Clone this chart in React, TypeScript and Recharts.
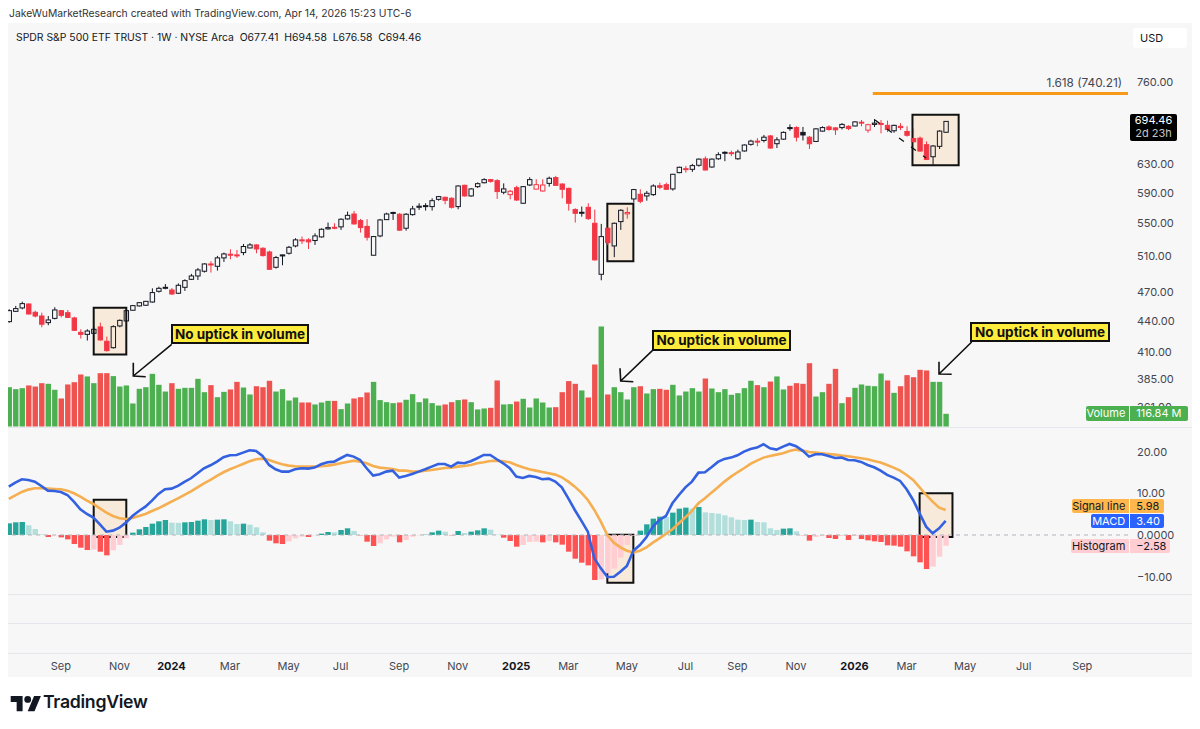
import React from "react";
import { ComposedChart, Bar, Line, XAxis, YAxis, ReferenceArea, ReferenceLine } from "recharts";

const opens = [
439.1,449.6,453.1,457.2,448.6,444.8,438.1,442.4,450.3,448.2,
442.8,428.5,426.5,427.5,433.8,419.8,413.7,434.8,439.8,450.7,
455.2,455.9,459.3,470.7,473.9,472.1,468.6,475.0,483.8,487.5,
492.8,501.1,498.4,508.1,512.4,511.6,514.3,519.8,523.4,519.4,
515.0,497.3,510.4,513.5,522.2,529.5,529.5,528.7,533.1,543.0,
545.0,545.5,555.5,561.8,553.4,546.1,511.2,534.3,554.6,562.9,
561.5,543.8,561.0,570.5,571.4,571.4,581.0,583.7,582.4,571.4,
599.9,585.5,598.1,603.5,607.8,606.4,590.5,587.3,596.7,575.8,
600.4,594.7,592.2,602.6,610.6,601.7,595.8,567.5,563.0,570.5,
550.0,489.4,543.8,522.2,552.1,562.0,581.5,587.7,585.5,587.3,
599.4,600.8,595.0,617.6,621.9,622.3,628.1,637.5,625.6,637.5,
646.0,645.5,637.5,649.0,658.9,663.8,664.8,671.7,659.9,666.8,
684.7,684.7,677.2,669.8,663.3,679.2,685.7,684.2,684.7,686.7,
687.2,692.2,680.7,689.7,689.7,688.2,679.7,686.7,678.7,667.8,
668.3,658.4,640.5,655.9,677.41];
const closes = [
450.3,452.4,457.6,446.9,444.8,436.5,440.8,451.0,445.5,443.4,
430.5,426.5,429.8,431.5,421.1,410.9,434.1,440.4,450.3,455.5,
458.6,460.0,469.3,473.9,475.0,467.8,477.2,482.3,487.5,494.3,
501.1,499.9,508.1,512.7,511.6,510.8,521.5,523.4,518.6,510.8,
495.0,508.5,511.6,520.6,529.5,528.7,527.1,534.3,542.5,544.6,
544.0,555.1,560.1,549.2,544.6,532.7,533.5,554.2,561.8,563.8,
541.4,561.5,568.4,571.9,572.7,579.2,584.6,579.7,570.5,599.0,
585.5,595.0,602.2,607.8,605.4,591.4,595.0,591.8,580.1,598.1,
607.8,600.8,600.3,609.7,599.9,594.5,575.8,562.7,564.0,555.9,
505.8,533.5,526.2,550.0,566.6,563.8,594.1,578.4,589.1,599.0,
597.2,594.5,615.3,625.2,623.3,627.6,637.0,621.4,637.0,643.5,
647.0,646.5,647.5,657.9,663.8,662.3,669.8,653.4,665.8,677.2,
683.2,669.8,673.2,659.8,682.7,684.7,681.7,681.2,689.7,683.2,
693.7,693.2,689.2,691.7,691.2,681.7,688.2,684.7,672.7,662.8,
648.9,636.6,656.4,679.2,694.46];
const highs = [
451.7,455.2,459.7,457.9,450.3,448.2,444.8,453.8,451.0,451.0,
444.1,431.5,431.5,434.1,438.1,424.3,435.5,441.4,452.7,456.2,
459.3,460.4,473.9,475.7,478.6,474.3,479.3,483.8,489.8,496.5,
501.9,504.2,510.4,514.3,518.2,517.4,524.6,525.5,524.2,520.6,
516.6,510.4,512.0,522.2,531.5,533.5,531.5,537.5,543.7,550.9,
550.0,556.3,564.9,565.7,555.5,555.1,534.3,555.5,563.5,564.7,
562.9,562.9,572.3,575.8,575.8,582.4,585.5,584.6,583.7,599.9,
600.8,596.3,604.0,609.7,608.8,608.3,602.6,593.6,599.4,599.0,
611.1,608.3,608.3,612.0,613.0,602.6,596.7,569.2,571.4,575.8,
567.5,549.2,544.6,550.9,567.9,570.5,595.0,594.5,592.3,601.3,
603.5,603.5,615.8,626.1,627.1,630.1,638.0,641.0,638.0,647.0,
648.5,649.5,651.0,658.9,665.9,668.3,673.2,673.2,669.8,678.7,
689.7,686.7,685.7,671.7,683.7,686.7,688.2,685.7,691.7,688.2,
694.7,696.7,690.7,698.2,696.7,695.7,689.2,691.7,686.7,683.2,
670.7,663.3,657.9,680.7,694.58];
const lows = [
438.1,448.9,451.7,446.2,443.4,433.5,435.5,441.4,443.4,442.8,
429.8,422.4,420.5,426.9,420.5,410.0,412.8,433.5,439.1,450.3,
454.5,455.2,458.6,469.3,472.9,466.8,467.8,471.1,483.0,483.0,
491.3,491.3,493.5,503.4,506.5,508.1,511.2,519.4,513.5,509.6,
494.3,495.8,499.6,512.0,520.6,524.6,518.6,523.4,532.3,542.1,
542.5,541.7,554.6,548.4,538.4,528.7,510.8,532.7,554.2,554.2,
540.6,540.8,559.7,567.1,566.2,566.2,579.2,574.5,568.8,567.9,
584.6,584.6,596.3,602.6,603.5,581.5,587.8,581.0,578.8,574.9,
599.0,594.5,591.3,598.1,599.0,582.4,566.2,550.9,558.4,554.2,
505.0,482.7,523.0,508.9,541.7,555.9,576.7,575.8,579.2,585.5,
594.5,593.6,592.7,616.7,617.6,618.6,626.1,620.5,624.6,636.0,
634.0,641.4,636.0,648.0,656.9,656.0,661.8,652.4,653.4,665.8,
679.7,663.3,664.8,651.9,662.3,678.2,679.7,673.2,681.7,680.7,
686.7,686.7,676.7,685.7,675.7,677.7,676.7,680.7,670.7,660.8,
648.0,635.6,628.5,651.9,676.58];
const volumes = [
362,344,353,378,368,399,393,338,258,387,
408,479,461,399,491,491,464,368,378,212,
347,362,485,384,322,399,347,356,356,439,
316,381,270,319,341,411,359,295,371,362,
421,322,344,239,267,221,221,203,221,236,
236,160,212,258,270,313,411,243,224,215,
221,246,298,224,258,215,193,203,224,243,
249,224,157,166,172,424,203,206,230,255,
175,258,221,175,178,316,418,393,332,267,
571,921,295,362,316,249,362,371,304,344,
347,338,384,286,322,353,322,442,350,316,
344,292,307,353,421,381,362,414,461,341,
375,399,393,583,276,316,393,531,215,270,
356,387,375,371,488,424,310,371,473,454,
522,516,411,411,116.84];
const macd = [
11.6,12.56,13.36,13.2,12.8,11.76,10.64,10.56,10.32,9.6,
8.0,6.16,5.04,4.16,2.56,0.8,1.04,1.76,2.96,4.56,
5.76,6.8,8.24,9.84,10.96,11.12,11.76,12.72,13.6,14.8,
16.0,16.72,17.6,18.64,19.12,19.2,19.76,20.32,20.16,18.96,
16.8,15.76,15.2,15.2,15.76,16.0,15.92,16.16,16.96,17.44,
17.6,18.4,19.2,18.8,18.0,16.0,14.24,14.56,15.2,15.44,
13.76,14.16,14.64,15.2,15.76,16.4,17.04,17.04,16.4,17.36,
17.2,17.68,18.4,19.2,19.2,18.16,17.2,16.0,14.0,13.68,
14.16,13.92,13.36,13.52,12.8,11.44,8.8,6.0,3.44,0.8,
-5.6,-8.0,-10.08,-10.0,-8.8,-7.44,-3.76,-2.4,-0.56,2.0,
3.6,4.56,7.6,9.6,11.44,12.8,14.96,15.04,16.24,17.52,
18.24,18.56,19.12,20.0,20.64,20.96,21.76,20.8,20.48,21.2,
21.84,21.28,20.24,18.8,19.36,19.36,18.96,18.48,18.56,18.0,
17.92,17.52,16.8,16.24,15.44,14.4,13.76,12.96,10.96,8.4,
5.2,2.0,0.4,1.6,3.40];
const signal = [
8.64,9.52,10.32,10.88,11.2,11.2,11.12,11.04,10.96,10.64,
10.0,9.2,8.24,7.44,6.4,5.36,4.56,4.0,3.84,4.08,
4.56,5.04,5.76,6.4,7.2,8.0,8.8,9.6,10.48,11.44,
12.4,13.2,14.16,15.04,15.76,16.4,17.04,17.68,18.16,18.32,
18.0,17.44,16.96,16.64,16.48,16.4,16.4,16.4,16.48,16.64,
16.88,17.2,17.52,17.84,17.6,17.2,16.56,16.16,16.0,15.84,
15.44,15.44,15.2,15.2,15.44,15.6,15.84,16.08,16.16,16.4,
16.56,16.8,17.2,17.44,17.76,17.84,17.68,17.44,16.8,16.24,
15.76,15.44,15.12,14.8,14.48,13.84,12.8,11.6,10.16,8.4,
6.0,3.2,0.0,-1.84,-2.96,-3.76,-4.16,-3.76,-2.96,-1.84,
-0.8,0.24,1.36,2.8,4.24,5.76,7.6,8.8,10.16,11.44,
12.8,14.0,15.04,16.0,17.04,17.84,18.56,18.96,19.28,19.6,
20.16,20.48,20.24,19.92,19.76,19.6,19.44,19.28,19.04,18.88,
18.64,18.4,18.16,17.76,17.36,16.8,16.16,15.44,14.4,13.2,
11.44,9.6,8.0,6.56,5.98];
const histogram = [
2.8,3.04,3.12,2.32,1.44,0.16,-0.48,-0.1,-0.56,-1.04,
-2.16,-3.04,-3.6,-3.5,-4.0,-4.88,-3.68,-2.4,-0.8,0.56,
1.36,1.92,2.72,3.28,3.6,2.96,2.9,3.04,3.12,3.44,
3.76,3.6,3.68,3.76,3.28,2.64,2.72,2.48,1.84,0.64,
-1.36,-2.0,-2.16,-1.52,-0.8,-0.4,-0.48,-0.08,0.32,0.72,
0.64,1.2,1.6,0.96,-0.08,-1.6,-2.64,-2.0,-1.04,-0.4,
-1.76,-1.2,-0.4,-0.08,0.08,0.64,1.04,0.8,-0.08,0.96,
0.48,0.8,1.12,1.6,1.28,0.08,-0.64,-1.44,-2.8,-2.4,
-1.68,-1.6,-1.76,-1.44,-1.76,-2.32,-4.0,-5.68,-6.64,-7.28,
-10.8,-10.64,-9.2,-8.08,-5.44,-2.4,-0.16,1.04,2.56,3.92,
4.4,4.32,5.36,6.32,6.56,6.32,6.72,5.44,5.28,5.12,
4.72,4.24,3.68,3.6,3.68,3.12,3.04,1.6,1.2,1.52,
1.6,0.88,-0.05,-1.36,-0.48,-0.16,-0.72,-0.96,-0.24,-1.2,
-0.24,-0.96,-1.28,-1.52,-1.68,-2.48,-2.56,-2.8,-3.92,-5.12,
-6.56,-8.16,-7.6,-5.2,-2.58];

const timeTickIndexes = [8,17,25,34,43,51,60,69,78,86,95,104,112,121,130,138,147,156,165];
const timeTickLabels = ["Sep","Nov","2024","Mar","May","Jul","Sep","Nov","2025","Mar","May","Jul","Sep","Nov","2026","Mar","May","Jul","Sep"];
const priceTicks = [760,630,590,550,510,470,440,410,385,361];
const macdTicks = [20,10,0,-10];
const fibLevel = 740.21;

const rows = opens.map((o, i) => ({
  i, open: o, high: highs[i], low: lows[i], close: closes[i],
  prev: i > 0 ? closes[i - 1] : o,
  volume: volumes[i], macd: macd[i], signal: signal[i], hist: histogram[i],
  histPrev: i > 0 ? histogram[i - 1] : histogram[i],
}));

const FONT = "Inter, 'Noto Sans', sans-serif";
const W = 1200;
const X_DOMAIN: [number, number] = [-0.123, 172.03];
const BOX_FILL = "#f6d9b8";

const CandleShape = (p: any) => {
  const { x, y, width, height, payload: d } = p;
  const span = Math.log(d.high) - Math.log(d.low) || 1;
  const at = (v: number) => y + (height * (Math.log(d.high) - Math.log(v))) / span;
  const up = d.close >= d.open;
  const color = d.close >= d.prev ? "#131722" : "#f23645";
  const top = at(Math.max(d.open, d.close));
  const bot = at(Math.min(d.open, d.close));
  const cx = x + width / 2;
  return (
    <g>
      <line x1={cx} x2={cx} y1={y} y2={top} stroke={color} strokeWidth={1} />
      <line x1={cx} x2={cx} y1={bot} y2={y + height} stroke={color} strokeWidth={1} />
      <rect x={x + 0.5} y={top} width={width - 1} height={Math.max(bot - top, 1)} fill={up ? "none" : color} stroke={color} strokeWidth={1} />
    </g>
  );
};

const VolumeShape = (p: any) => {
  const { x, y, width, height, payload: d } = p;
  return <rect x={x} y={y} width={width} height={height} fill={d.close >= d.open ? "#4caf50" : "#ef5350"} />;
};

const HistShape = (p: any) => {
  const { x, y, width, height, payload: d } = p;
  const rising = d.hist >= d.histPrev;
  const fill = d.hist >= 0 ? (rising ? "#26a69a" : "#b2dfdb") : rising ? "#ffcdd2" : "#ff5252";
  return <rect x={x} y={Math.min(y, y + height)} width={width} height={Math.abs(height)} fill={fill} />;
};

const TimeTick = (p: any) => {
  const label = timeTickLabels[timeTickIndexes.indexOf(p.payload.value)];
  const year = /^\d+$/.test(label);
  return (
    <text x={p.x} y={p.y + 8} textAnchor="middle" fontFamily={FONT} fontSize={11} fontWeight={year ? 700 : 400} fill={year ? "#131722" : "#434651"} >
      {label}
    </text>
  );
};

const Callout = ({ left, top, width, height }: any) => (
  <div style={{ position: "absolute", left, top, width, height, boxSizing: "border-box", background: "#ffeb3b", border: "2px solid #111", display: "flex", alignItems: "center", justifyContent: "center", fontFamily: FONT, fontWeight: 700, fontSize: 13.5, color: "#111", whiteSpace: "nowrap" }}>
    No uptick in volume
  </div>
);

const Badge = ({ left, top, width, split, height, bg, color, label, value }: any) => (
  <div style={{ position: "absolute", left, top, width, height, background: bg, color, borderRadius: 2, fontFamily: FONT, fontSize: 11, lineHeight: `${height}px`, whiteSpace: "nowrap" }}>
    <span style={{ position: "absolute", right: width - split + 4 }}>{label}</span>
    <span style={{ position: "absolute", left: split, top: 0, width: 1, height, background: "#fff" }} />
    <span style={{ position: "absolute", left: split + 7 }}>{value}</span>
  </div>
);

const Rule = ({ top }: { top: number }) => (
  <div style={{ position: "absolute", left: 8, top, width: 1184, height: 1, background: "#e6e7ec" }} />
);

export default function App() {
  return (
    <div style={{ position: "absolute", left: 0, top: 0, width: W, height: 729, background: "#fff", overflow: "hidden" }}>
      <div style={{ position: "absolute", left: 9, top: 7, fontFamily: FONT, fontSize: 10.35, color: "#333", whiteSpace: "nowrap" }}>
        JakeWuMarketResearch created with TradingView.com, Apr 14, 2026 15:23 UTC-6
      </div>
      <div style={{ position: "absolute", left: 8, top: 23, width: 1184, height: 654, background: "#f7f7f7" }} />
      <Rule top={427} />
      <Rule top={594} />
      <Rule top={623} />
      <Rule top={653} />
      <div style={{ position: "absolute", left: 16, top: 31, fontFamily: FONT, fontSize: 10.4, color: "#131722", whiteSpace: "pre" }}>
        {"SPDR S&P 500 ETF TRUST · 1W · NYSE Arca  O677.41  H694.58  L676.58  C694.46"}
      </div>
      <div style={{ position: "absolute", left: 1133, top: 28, width: 54, height: 20, background: "#fff", borderRadius: 3, fontFamily: FONT, fontSize: 11, lineHeight: "20px", color: "#131722", textIndent: 7 }}>USD</div>

      {/* volume pane layer */}
      <div style={{ position: "absolute", left: 0, top: 0 }}>
        <ComposedChart width={W} height={427} data={rows} margin={{ top: 23, right: 72, bottom: 0.5, left: 8 }}>
          <XAxis dataKey="i" type="number" domain={X_DOMAIN} hide allowDataOverflow />
          <YAxis domain={[0, 3716]} hide />
          <Bar dataKey="volume" barSize={5.4} shape={VolumeShape} isAnimationActive={false} />
        </ComposedChart>
      </div>

      {/* price pane layer */}
      <div style={{ position: "absolute", left: 0, top: 0 }}>
        <ComposedChart width={W} height={427} data={rows} margin={{ top: 23, right: 8, bottom: 0.5, left: 8 }}>
          <XAxis dataKey="i" type="number" domain={X_DOMAIN} hide allowDataOverflow />
          <YAxis
            orientation="right" width={64} scale="log" domain={[345.4, 869.9]} allowDataOverflow
            ticks={priceTicks} interval={0} axisLine={false} tickLine={false} tickSize={0} tickMargin={9}
            tick={{ fontFamily: FONT, fontSize: 11, fill: "#434651" }} tickFormatter={(v: number) => v.toFixed(2)}
          />
          <ReferenceArea x1={13.05} x2={18.06} y1={407.4} y2={453.4} fill={BOX_FILL} fillOpacity={0.45} stroke="#111" strokeWidth={2} />
          <ReferenceArea x1={92} x2={96} y1={504.2} y2={575.3} fill={BOX_FILL} fillOpacity={0.45} stroke="#111" strokeWidth={2} />
          <ReferenceArea x1={138.9} x2={146} y1={628} y2={705.2} fill={BOX_FILL} fillOpacity={0.45} stroke="#111" strokeWidth={2} />
          <ReferenceLine segment={[{ x: 132.8, y: fibLevel }, { x: 172.03, y: fibLevel }]} stroke="#f79a1a" strokeWidth={3} />
          <Bar dataKey={(d: any) => [d.low, d.high]} barSize={5.4} shape={CandleShape} isAnimationActive={false} />
        </ComposedChart>
      </div>

      {/* MACD pane */}
      <div style={{ position: "absolute", left: 0, top: 428 }}>
        <ComposedChart width={W} height={249} data={rows} margin={{ top: 0, right: 8, bottom: 0, left: 8 }}>
          <XAxis
            dataKey="i" type="number" domain={X_DOMAIN} allowDataOverflow height={23}
            ticks={timeTickIndexes} interval={0} axisLine={false} tickLine={false} tick={TimeTick}
          />
          <YAxis
            orientation="right" width={64} domain={[-28.54, 25.66]} allowDataOverflow
            ticks={macdTicks} interval={0} axisLine={false} tickLine={false} tickSize={0} tickMargin={9}
            tick={{ fontFamily: FONT, fontSize: 11, fill: "#434651" }}
            tickFormatter={(v: number) => (v === 0 ? "0.0000" : v < 0 ? `\u2212${Math.abs(v).toFixed(2)}` : v.toFixed(2))}
          />
          <ReferenceLine y={0} stroke="#b2b5be" strokeDasharray="4 4" />
          <Bar dataKey="hist" barSize={5.4} shape={HistShape} isAnimationActive={false} />
          <ReferenceArea x1={13.05} x2={18.06} y1={-0.48} y2={8.48} fill={BOX_FILL} fillOpacity={0.45} stroke="#111" strokeWidth={2} />
          <ReferenceArea x1={92} x2={96} y1={-11.44} y2={0.08} fill={BOX_FILL} fillOpacity={0.45} stroke="#111" strokeWidth={2} />
          <ReferenceArea x1={140} x2={145.05} y1={-0.48} y2={10} fill={BOX_FILL} fillOpacity={0.45} stroke="#111" strokeWidth={2} />
          <Line dataKey="signal" stroke="#f5ae50" strokeWidth={2.6} dot={false} isAnimationActive={false} />
          <Line dataKey="macd" stroke="#3361e0" strokeWidth={2.6} dot={false} isAnimationActive={false} />
        </ComposedChart>
      </div>

      <div style={{ position: "absolute", right: 78, top: 76, fontFamily: FONT, fontSize: 11.8, color: "#434651", whiteSpace: "nowrap" }}>1.618 (740.21)</div>

      {/* annotations */}
      <svg width={W} height={729} style={{ position: "absolute", left: 0, top: 0, pointerEvents: "none" }}>
        <g stroke="#111" strokeWidth={1.6} fill="none">
          <path d="M171.7 344.3 L133.3 376 M133.3 362.7 L133.3 376 L145.7 376.7" />
          <path d="M652.3 350.7 L620.7 381 M620 368.3 L620.7 381 L633.3 381.7" />
          <path d="M971.7 342 L939 374 M939 361.7 L939 374 L951.7 374.3" />
        </g>
        <path d="M875 120 L926 158" stroke="#111" strokeWidth={1.3} strokeDasharray="6 9" fill="none" />
        <g transform="translate(10.7 692.6) scale(0.85)" fill="#131722">
          <path d="M14 22H7V11H0V4h14v18zM28 22h-8l7.5-18h8L28 22z" />
          <circle cx="20" cy="8" r="4" />
        </g>
      </svg>
      <div style={{ position: "absolute", left: 43, top: 691, fontFamily: FONT, fontWeight: 600, fontSize: 17.7, color: "#131722", letterSpacing: -0.3 }}>TradingView</div>

      <Callout left={170.7} top={324} width={138.6} height={20.3} />
      <Callout left={652.3} top={330} width={138.4} height={20.7} />
      <Callout left={970.3} top={321.7} width={139.4} height={20.3} />

      <div style={{ position: "absolute", left: 1130, top: 114, width: 47, height: 27, background: "#000", color: "#fff", borderRadius: 2, fontFamily: FONT, fontSize: 11, lineHeight: "13px", textAlign: "center", paddingTop: 0 }}>
        <div>694.46</div>
        <div style={{ color: "#c4c4c4" }}>2d 23h</div>
      </div>
      <Badge left={1085.7} top={406} width={102} height={14.7} split={43.6} bg="#4caf50" color="#fff" label="Volume" value="116.84 M" />
      <Badge left={1072} top={499} width={92} height={14.3} split={57.3} bg="#ffb74d" color="#131722" label="Signal line" value="5.98" />
      <Badge left={1091} top={514} width={73} height={14} split={38.3} bg="#2962ff" color="#fff" label="MACD" value="3.40" />
      <Badge left={1071} top={539} width={99} height={14.3} split={58.3} bg="#ffcdd2" color="#131722" label="Histogram" value={"\u22122.58"} />
    </div>
  );
}
